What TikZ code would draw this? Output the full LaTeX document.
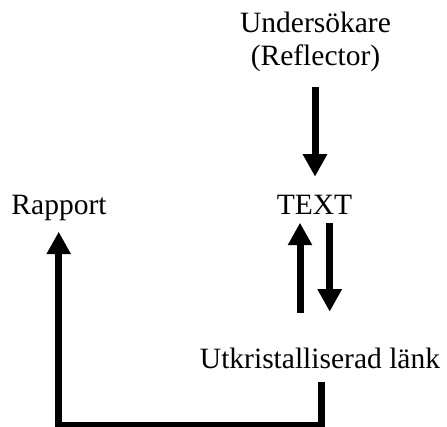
\documentclass[tikz,border=0pt]{standalone}
\usepackage{fontspec}
\setmainfont{Liberation Serif}
\usetikzlibrary{arrows.meta,calc}
\begin{document}
\begin{tikzpicture}[x=1pt,y=1pt,
  lbl/.style={inner sep=0pt,anchor=base,font=\fontsize{29.5}{33}\selectfont},
  flow/.style={line width=7pt,-{Triangle[length=22.5pt,width=23pt]}},
  link/.style={line width=7pt,line join=miter,-{Triangle[length=22.5pt,width=23pt]}}]
  \useasboundingbox (0,0) rectangle (447,427);

  % labels
  \node[lbl] (und)  at (315.5,394) {Undersökare};
  \node[lbl] (refl) at (315.5,361) {(Reflector)};
  \node[lbl] (txt)  at (314.5,212) {TEXT};
  \node[lbl] (rap)  at (59,212)    {Rapport};
  \node[lbl] (utk)  at (320,58)    {Utkristalliserad länk};

  % Reflector feeds the text
  \draw[flow] ($(refl.base)+(-0.5,-20.7)$) -- ($(txt.base)+(0.5,38.3)$);

  % exchange between text and crystallised link
  \draw[flow] ($(utk.base)+(-20,56.3)$) -- ($(txt.base)+(-14.5,-7.7)$);
  \draw[flow] ($(txt.base)+(15.2,-7.7)$) -- ($(utk.base)+(9.7,57.3)$);

  % crystallised link back to the report
  \draw[link] ($(utk.base)+(1.3,-13.3)$) |- ($(rap.base)+(-0.3,-210.8)$) -- ($(rap.base)+(-0.3,-16.7)$);
\end{tikzpicture}
\end{document}
